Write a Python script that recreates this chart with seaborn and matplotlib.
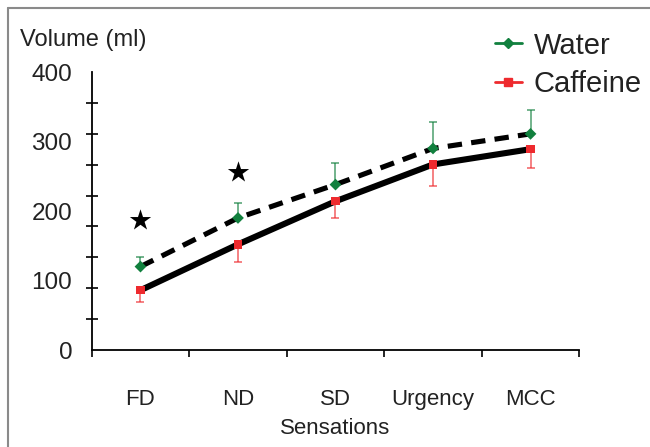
import numpy as np
import pandas as pd
import matplotlib
matplotlib.use("Agg")
import matplotlib.pyplot as plt
import seaborn as sns
from matplotlib.lines import Line2D

# values (ml)
sensations = ["FD", "ND", "SD", "Urgency", "MCC"]
water = [120, 190, 238, 290, 311]
water_err = [14, 21, 31, 38, 34]
caffeine = [86, 152, 214, 267, 289]
caffeine_err = [17, 25, 24, 31, 27]
star_y = [187, 256]  # significance stars over FD and ND
y_labels = [0, 100, 200, 300, 400]

green = "#11803e"
red = "#ee2a2e"
text_col = "#222222"

sns.set_style("white")
plt.rcParams['font.family'] = ['Liberation Sans', 'DejaVu Sans']
plt.rcParams['text.color'] = text_col

pos = np.arange(len(sensations))
df = pd.DataFrame({
    "pos": np.tile(pos, 2),
    "volume": water + caffeine,
    "group": ["Water"] * len(water) + ["Caffeine"] * len(caffeine),
})

fig = plt.figure(figsize=(6.5, 4.47), dpi=100)
ax = fig.add_axes([0.1411, 0.2170, 0.7501, 0.6219])

# one-sided error bars: water up, caffeine down
ax.errorbar(pos, water, yerr=[np.zeros(len(water)), water_err], fmt='none',
            ecolor=green, alpha=0.75, elinewidth=1.1, capsize=3, capthick=1.1, zorder=2)
ax.errorbar(pos, caffeine, yerr=[caffeine_err, np.zeros(len(caffeine))], fmt='none',
            ecolor=red, alpha=0.75, elinewidth=1.1, capsize=3, capthick=1.1, zorder=2)

# thick black trend lines
sns.lineplot(x=pos, y=water, color='black', lw=3.7, ax=ax, zorder=3,
             dashes=False, linestyle=(0, (2.8, 1.8)))
sns.lineplot(x=pos, y=caffeine, color='black', lw=4.4, ax=ax, zorder=3)

# coloured markers on top
sns.scatterplot(data=df, x="pos", y="volume", hue="group", style="group",
                markers={"Water": "D", "Caffeine": "s"},
                palette={"Water": green, "Caffeine": red},
                s=36, linewidth=0, ax=ax, legend=False, zorder=4)

# significance stars
sns.scatterplot(x=pos[:len(star_y)], y=star_y, marker='*', color='black',
                s=260, linewidth=0, ax=ax, zorder=4)

ax.set_xlim(-0.5, len(sensations) - 0.5)
ax.set_ylim(0, 400)
ax.set_xticks(np.arange(-0.5, len(sensations), 1))
ax.set_xticklabels([])
ax.set_xticks(pos, minor=True)
ax.set_xticklabels(sensations, minor=True)
ax.set_yticks(y_labels)
ax.set_yticklabels([str(v) for v in y_labels])
ax.set_yticks(np.linspace(0, 400, 10), minor=True)

ax.tick_params(axis='x', which='major', bottom=True, direction='out', length=5, width=1.2, color='black')
ax.tick_params(axis='x', which='minor', bottom=True, length=0, pad=28, labelsize=16, labelcolor=text_col)
ax.tick_params(axis='y', which='major', left=True, length=0, pad=14, labelsize=17.5, labelcolor=text_col)
ax.tick_params(axis='y', which='minor', left=True, direction='inout', length=8, width=1.2, color='black')

sns.despine(ax=ax)
for side in ['left', 'bottom']:
    ax.spines[side].set_color('black')
    ax.spines[side].set_linewidth(1.3)

ax.set_xlabel("Sensations", fontsize=16, labelpad=6, color=text_col)
ax.set_ylabel("")
fig.text(20 / 650, 1 - 40 / 447, "Volume (ml)", ha='left', va='center', fontsize=17)

handles = [
    Line2D([], [], color=green, lw=2, marker='D', markersize=5),
    Line2D([], [], color=red, lw=2, marker='s', markersize=6),
]
fig.legend(handles, ["Water", "Caffeine"], loc='upper left',
           bbox_to_anchor=(480 / 650, 1 - 17 / 447), frameon=False, fontsize=21,
           borderpad=0, labelspacing=0.37, handlelength=0.95, handletextpad=0.38)

# grey frame lines at top and left of the picture
fig.add_artist(Line2D([8 / 650, 1], [1 - 8 / 447, 1 - 8 / 447], color='#8a8a8a', lw=1.5))
fig.add_artist(Line2D([8 / 650, 8 / 650], [0, 1 - 8 / 447], color='#8a8a8a', lw=1.5))

fig.savefig("out.png", dpi=100, facecolor='white')
